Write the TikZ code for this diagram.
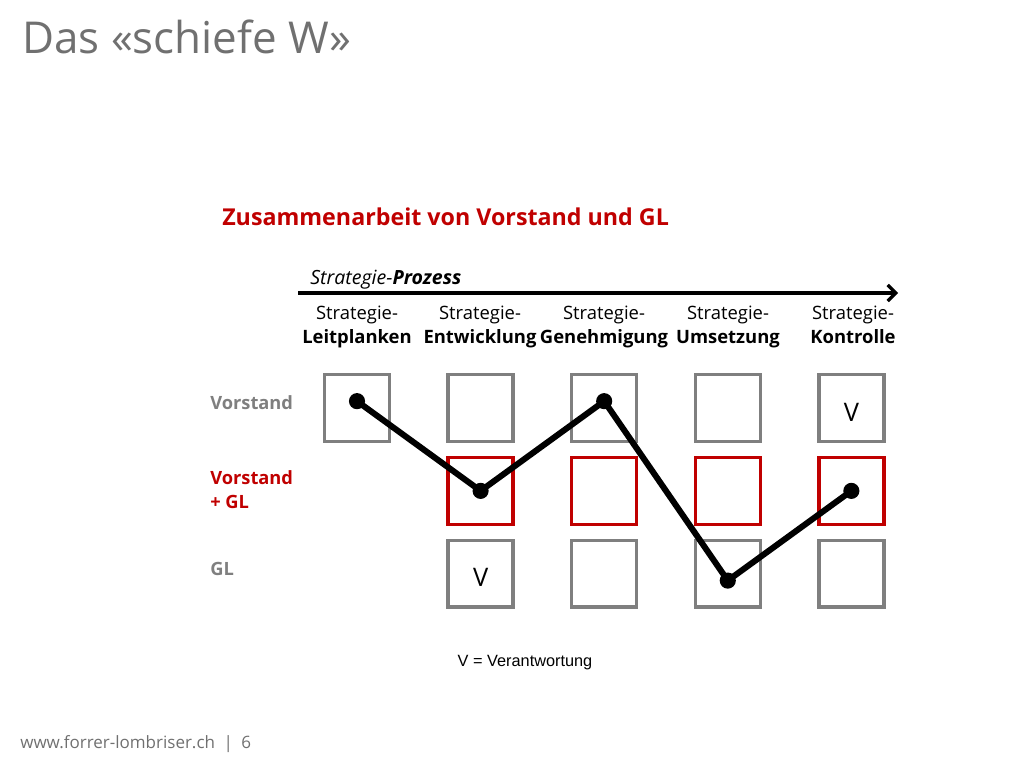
\documentclass[tikz,border=0pt]{standalone}
\usepackage{fontspec}
\setmainfont{Open Sans}
\newfontfamily\arialfont{Liberation Sans}
\usepackage{tikz}
\usetikzlibrary{positioning, arrows.meta}
\definecolor{slidegray}{RGB}{112,112,112}
\definecolor{boxgray}{RGB}{127,127,127}
\definecolor{slidered}{RGB}{192,0,0}

\begin{document}
\begin{tikzpicture}[x=0.248mm,y=-0.248mm,node distance=3.1mm and 13.7mm,>={Straight Barb[length=2mm,width=4mm]}]
    \tikzstyle{cell}=[draw=boxgray,line width=0.85mm,minimum width=16.1mm,minimum height=16.6mm,inner sep=0]
    \tikzstyle{cellred}=[cell,draw=slidered]
    \tikzstyle{dot}=[fill=black,circle,inner sep=0,minimum size=4mm]
    \tikzstyle{colhead}=[align=center,anchor=north,inner sep=0,font=\fontsize{13}{17}\selectfont]
    \tikzstyle{rowlabel}=[align=left,inner sep=0,font=\fontsize{12.9}{17}\selectfont\bfseries]
    \tikzstyle{resp}=[inner sep=0,font=\fontsize{18}{20}\selectfont]

    \useasboundingbox (0,0) rectangle (1024,768);

    % titles
    \node[anchor=base west,inner sep=0,text=slidegray,font=\fontsize{31}{35}\selectfont] (title) at (22,53) {Das «schiefe W»};
    \node[anchor=base west,inner sep=0,text=slidered,font=\fontsize{16.4}{20}\selectfont\bfseries] (head) at (222,225) {Zusammenarbeit von Vorstand und GL};

    % process arrow
    \node[anchor=base west,inner sep=0,font=\fontsize{13.8}{16}\selectfont\itshape] (proc) at (310,284) {Strategie-\textbf{Prozess}};
    \coordinate (pa) at (298,293);
    \coordinate (pb) at (898,293);
    \draw[->,line width=0.8mm] (pa) -- (pb);

    % boxes
    \node[cell] (v1) at (357,408) {};
    \node[cell,right=of v1] (v2) {};
    \node[cell,right=of v2] (v3) {};
    \node[cell,right=of v3] (v4) {};
    \node[cell,right=of v4] (v5) {};
    \node[cellred,below=of v2] (m2) {};
    \node[cellred,below=of v3] (m3) {};
    \node[cellred,below=of v4] (m4) {};
    \node[cellred,below=of v5] (m5) {};
    \node[cell,below=of m2] (g2) {};
    \node[cell,below=of m3] (g3) {};
    \node[cell,below=of m4] (g4) {};
    \node[cell,below=of m5] (g5) {};

    % column heads
    \node[colhead] (h1) at (357,306) {Strategie-\\\textbf{Leitplanken}};
    \node[colhead] (h2) at (480,306) {Strategie-\\\textbf{Entwicklung}};
    \node[colhead] (h3) at (604,306) {Strategie-\\\textbf{Genehmigung}};
    \node[colhead] (h4) at (728,306) {Strategie-\\\textbf{Umsetzung}};
    \node[colhead] (h5) at (853,306) {Strategie-\\\textbf{Kontrolle}};

    % row labels
    \node[rowlabel,anchor=base west,text=boxgray] (r1) at (210,409) {Vorstand};
    \node[rowlabel,anchor=north west,text=slidered] (r2) at (210,470) {Vorstand\\+ GL};
    \node[rowlabel,anchor=base west,text=boxgray] (r3) at (210,575) {GL};

    % responsibility marks
    \node[resp] (vk) at ([yshift=-1mm]v5.center) {V};
    \node[resp] (ve) at ([yshift=-1mm]g2.center) {V};

    % the W
    \coordinate (p1) at ([yshift=1.7mm]v1.center);
    \coordinate (p2) at (m2.center);
    \coordinate (p3) at ([yshift=1.7mm]v3.center);
    \coordinate (p4) at ([yshift=-1.7mm]g4.center);
    \coordinate (p5) at (m5.center);
    \draw[line width=1.5mm,line join=round] (p1) -- (p2) -- (p3) -- (p4) -- (p5);
    \node[dot] at (p1) {};
    \node[dot] at (p2) {};
    \node[dot] at (p3) {};
    \node[dot] at (p4) {};
    \node[dot] at (p5) {};

    % legend and footer
    \node[anchor=base,inner sep=0,font=\arialfont\fontsize{11.5}{14}\selectfont] (leg) at (525,666) {V = Verantwortung};
    \node[anchor=base west,inner sep=0,text=slidegray,font=\fontsize{12}{16}\selectfont] (foot) at (20,748) {www.forrer-lombriser.ch\enspace|\enspace6};
\end{tikzpicture}
\end{document}
